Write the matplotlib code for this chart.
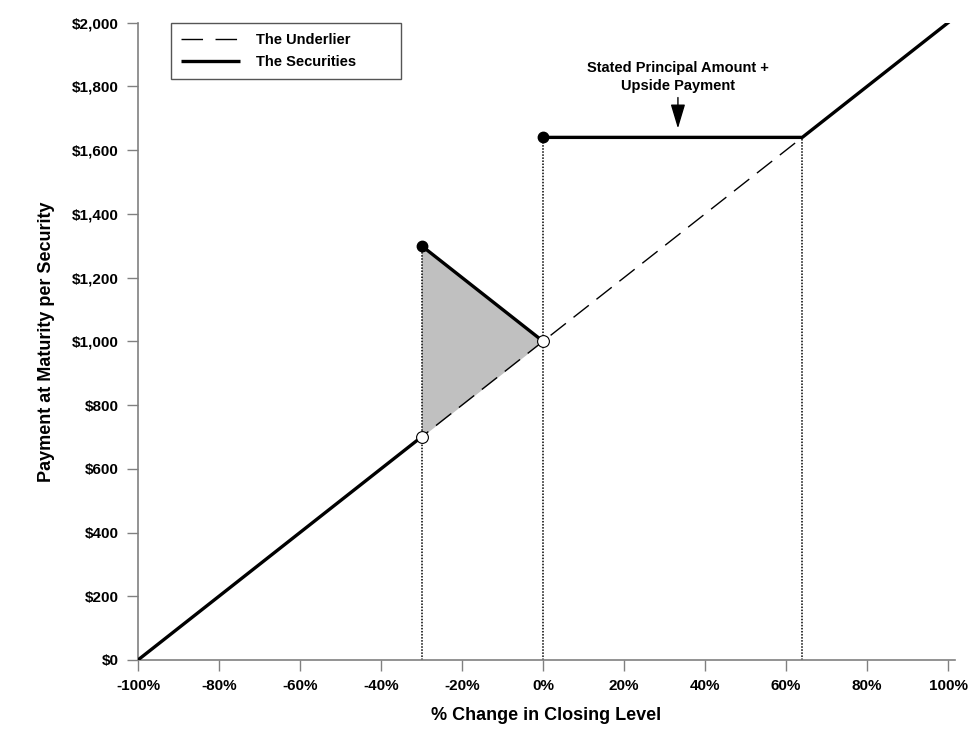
import matplotlib
matplotlib.use("Agg")
import matplotlib.pyplot as plt
from matplotlib.ticker import FuncFormatter

# payoff data (% change in closing level -> payment per security, $)
underlier_x = [-100, 100]
underlier_y = [0, 2000]

# securities payoff, drawn in three pieces
sec_low_x = [-100, -30]
sec_low_y = [0, 700]
sec_mid_x = [-30, 0]
sec_mid_y = [1300, 1000]
sec_high_x = [0, 64, 100]
sec_high_y = [1640, 1640, 2000]

# dots
filled_x = [-30, 0]
filled_y = [1300, 1640]
open_x = [-30, 0]
open_y = [700, 1000]

# dotted guide lines
guide_x = [-30, 0, 64]
guide_top = [1300, 1640, 1640]

# shaded region
shade_x = [-30, 0]
shade_top = [1300, 1000]
shade_bottom = [700, 1000]

x_ticks = [-100, -80, -60, -40, -20, 0, 20, 40, 60, 80, 100]
y_ticks = [0, 200, 400, 600, 800, 1000, 1200, 1400, 1600, 1800, 2000]

annot_text = "Stated Principal Amount +\nUpside Payment"
annot_text_xy = (33.3, 1830)
arrow_start = (33.3, 1765)
arrow_end = (33.3, 1668)

plt.rcParams['font.family'] = ['Liberation Sans', 'DejaVu Sans']
plt.rcParams['font.weight'] = 'bold'

fig = plt.figure(figsize=(9.73, 7.36), dpi=100)
ax = fig.add_axes([0.1418, 0.1033, 0.8397, 0.8659])

# shaded triangle
ax.fill_between(shade_x, shade_bottom, shade_top, color="#c0c0c0", lw=0, zorder=1)

# dotted guides
for gx, gt in zip(guide_x, guide_top):
    ax.plot([gx, gx], [0, gt], color="black", lw=1.1, linestyle=(0, (1, 1)), zorder=2)

# underlier
ax.plot(underlier_x, underlier_y, color="black", lw=1, dashes=(14, 7), zorder=3,
        label="The Underlier")

# securities
ax.plot(sec_low_x, sec_low_y, color="black", lw=2.4, zorder=4, solid_capstyle="butt",
        label="The Securities")
ax.plot(sec_mid_x, sec_mid_y, color="black", lw=2.4, zorder=4)
ax.plot(sec_high_x, sec_high_y, color="black", lw=2.4, zorder=4)

ax.plot(filled_x, filled_y, "o", color="black", ms=7.5, zorder=5)
ax.plot(open_x, open_y, "o", mfc="white", mec="black", mew=0.8, ms=8.5, zorder=5)

# annotation
ax.text(annot_text_xy[0], annot_text_xy[1], annot_text, ha="center", va="center",
        fontsize=10.5, fontweight="bold", linespacing=1.35)
ax.annotate("", xy=arrow_end, xytext=arrow_start,
            arrowprops=dict(arrowstyle="-|>,head_length=1.5,head_width=0.45",
                            color="black", lw=1, shrinkA=0, shrinkB=0))

ax.set_xlim(-100, 101.7)
ax.set_ylim(0, 2000)
ax.set_xticks(x_ticks)
ax.set_yticks(y_ticks)
ax.xaxis.set_major_formatter(FuncFormatter(lambda v, p: f"{int(v)}%"))
ax.yaxis.set_major_formatter(FuncFormatter(lambda v, p: f"${int(v):,}"))

for s in ["top", "right"]:
    ax.spines[s].set_visible(False)
for s in ["left", "bottom"]:
    ax.spines[s].set_color("#808080")
    ax.spines[s].set_linewidth(1.2)
ax.tick_params(direction="out", length=8, width=1, color="#808080", labelsize=11, pad=6)
for lab in ax.get_xticklabels() + ax.get_yticklabels():
    lab.set_fontweight("bold")

ax.set_xlabel("% Change in Closing Level", fontsize=13, fontweight="bold", labelpad=10)
ax.set_ylabel("Payment at Maturity per Security", fontsize=13, fontweight="bold", labelpad=12)

leg = ax.legend(loc="upper left", bbox_to_anchor=(0.0404, 1.0, 0.2815, 0.0), mode="expand",
                borderaxespad=0, fontsize=10.5, handlelength=4.0, handletextpad=1.1,
                labelspacing=0.55, borderpad=0.7, fancybox=False, framealpha=1)
leg.get_frame().set_edgecolor("#555555")
leg.get_frame().set_linewidth(1)
leg.get_lines()[0].set_dashes((15.5, 9))

fig.savefig("out.png", dpi=100)
